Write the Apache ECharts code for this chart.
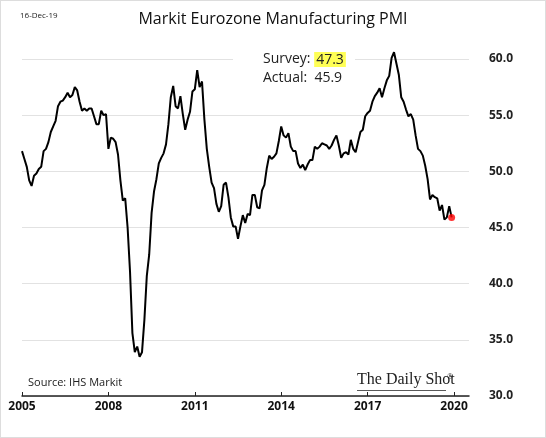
<!DOCTYPE html>
<html>
<head>
<meta charset="utf-8">
<script src="https://cdn.jsdelivr.net/npm/echarts@6/dist/echarts.min.js"></script>
<style>
  html, body { margin: 0; padding: 0; background: #fff; }
  #chart { width: 546px; height: 438px; box-sizing: border-box; border: 1px solid #ddd; }
</style>
</head>
<body>
<div id="chart"></div>
<script>
// monthly PMI, Jan 2005 .. Dec 2019
const startYear = 2005
const pmi = [
  51.8, 51.1, 50.4, 49.2, 48.7, 49.6, 49.8, 50.2, 50.4, 51.8, 52.0, 52.6,
  53.5, 54.0, 54.5, 55.8, 56.2, 56.3, 56.6, 57.0, 56.6, 56.8, 57.5, 57.2,
  56.2, 55.4, 55.6, 55.4, 55.6, 55.6, 54.9, 54.2, 54.2, 55.4, 55.0, 55.1,
  52.0, 53.0, 52.9, 52.6, 51.5, 49.2, 47.4, 47.6, 45.0, 41.1, 35.6, 33.9,
  34.4, 33.5, 33.9, 36.8, 40.7, 42.6, 46.3, 48.2, 49.3, 50.7, 51.2, 51.6,
  52.4, 54.2, 56.6, 57.6, 55.8, 55.6, 56.7, 55.1, 53.7, 54.6, 55.3, 57.1,
  57.3, 59.0, 57.5, 58.0, 54.6, 52.0, 50.4, 49.0, 48.5, 47.1, 46.4, 46.9,
  48.8, 49.0, 47.7, 45.9, 45.1, 45.1, 44.0, 45.1, 46.1, 45.4, 46.2, 46.1,
  47.9, 47.9, 46.8, 46.7, 48.3, 48.8, 50.3, 51.4, 51.1, 51.3, 51.6, 52.7,
  54.0, 53.2, 53.0, 53.4, 52.2, 51.8, 51.8, 50.7, 50.3, 50.6, 50.1, 50.6,
  51.0, 51.0, 52.2, 52.0, 52.2, 52.5, 52.4, 52.3, 52.0, 52.3, 52.8, 53.2,
  52.3, 51.2, 51.6, 51.7, 51.5, 52.8, 52.0, 51.7, 52.6, 53.5, 53.7, 54.9,
  55.2, 55.4, 56.2, 56.7, 57.0, 57.4, 56.6, 57.4, 58.1, 58.5, 60.1, 60.6,
  59.6, 58.6, 56.6, 56.2, 55.5, 54.9, 55.1, 54.6, 53.2, 52.0, 51.8, 51.4,
  50.5, 49.3, 47.5, 47.9, 47.7, 47.6, 46.5, 47.0, 45.7, 45.9, 46.9, 45.9
]
const survey = '47.3'
const actual = '45.9'

const points = pmi.map((v, i) => [startYear + i / 12, v])
const last = points[points.length - 1]

const chart = echarts.init(document.getElementById('chart'))
chart.setOption({
  animation: false,
  grid: { left: 21, right: 76, top: 58, bottom: 41 },
  title: {
    text: 'Markit Eurozone Manufacturing PMI',
    left: 'center', top: 5,
    textStyle: { fontFamily: 'Open Sans', fontSize: 16, fontWeight: 'normal', color: '#111' }
  },
  xAxis: {
    type: 'value', min: 2005, max: 2020.52, interval: 3,
    splitLine: { show: false },
    axisLine: { lineStyle: { color: '#222', width: 1.5 } },
    axisTick: { show: true, length: 4, inside: true, lineStyle: { color: '#222' } },
    axisLabel: {
      showMaxLabel: false, margin: 5, formatter: v => String(Math.round(v)),
      fontFamily: 'Open Sans', fontSize: 12, fontWeight: 'bold', color: '#111'
    }
  },
  yAxis: {
    type: 'value', position: 'right', min: 30, max: 60, interval: 5,
    axisLine: { show: false }, axisTick: { show: false },
    splitLine: { lineStyle: { color: '#e2e2e2', width: 1.2 } },
    axisLabel: {
      margin: 20, formatter: v => v.toFixed(1),
      fontFamily: 'Open Sans', fontSize: 12, fontWeight: 'bold', color: '#222'
    }
  },
  graphic: [
    { type: 'rect', shape: { x: 232, y: 50, width: 122, height: 40 }, style: { fill: '#fff' }, z: 50 },
    { type: 'text', left: 19, top: 11, z: 60,
      style: { text: '16-Dec-19', fontFamily: 'Open Sans', fontSize: 8, fill: '#222' } },
    { type: 'text', left: 262, top: 49, z: 60,
      style: {
        text: '{a|Survey: }{b|' + survey + '}\nActual:  ' + actual,
        fontFamily: 'Open Sans', fontSize: 14, fill: '#222', lineHeight: 19,
        rich: { a: { fontFamily: 'Open Sans', fontSize: 14, fill: '#222' },
                b: { fontFamily: 'Open Sans', fontSize: 14, fill: '#222', backgroundColor: '#ffff55', padding: [1, 2, 0, 2] } }
      } },
    { type: 'text', left: 27, top: 376, z: 60,
      style: { text: 'Source: IHS Markit', fontFamily: 'Open Sans', fontSize: 11, fill: '#222' } },
    { type: 'text', left: 356, top: 371, z: 60,
      style: { text: 'The Daily Shot', fontFamily: 'Liberation Serif', fontSize: 16, fill: '#222' } },
    { type: 'text', left: 446, top: 372, z: 60,
      style: { text: '®', fontFamily: 'Liberation Serif', fontSize: 8, fill: '#222' } },
    { type: 'rect', shape: { x: 356, y: 389, width: 89, height: 0.8 }, style: { fill: '#222' }, z: 60 }
  ],
  series: [
    {
      type: 'line', data: points, showSymbol: false, clip: false,
      lineStyle: { color: '#000', width: 2 }, z: 10
    },
    {
      type: 'scatter', data: [last], symbolSize: 7,
      itemStyle: { color: '#ff0000' }, z: 11
    }
  ]
})
</script>
</body>
</html>
